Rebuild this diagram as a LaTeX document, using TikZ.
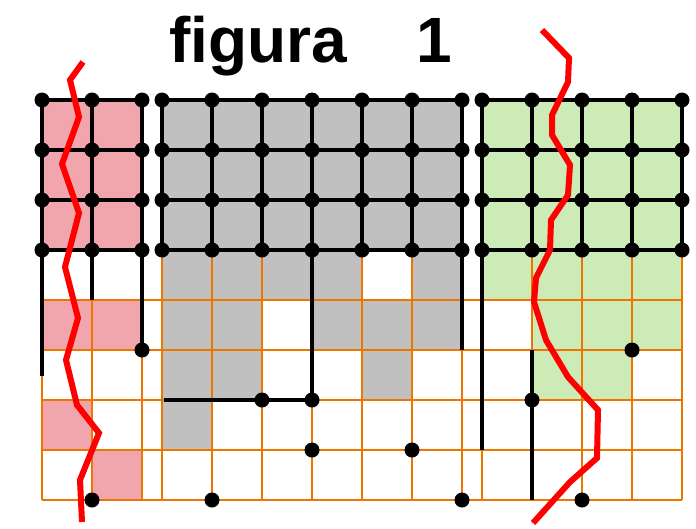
\documentclass[tikz,border=0pt]{standalone}
\usepackage{fontspec}
\setmainfont{Liberation Sans}
\definecolor{pinkc}{RGB}{240,166,172}
\definecolor{grayc}{RGB}{192,192,192}
\definecolor{greenc}{RGB}{205,235,182}
\definecolor{orangeg}{RGB}{238,118,0}
\begin{document}
\begin{tikzpicture}[x=1pt,y=-1pt,
  blk/.style={line width=3.8pt,black},
  og/.style={line width=1.1pt,orangeg},
  dot/.style={circle,fill=black,inner sep=0pt,minimum size=15pt},
  redz/.style={line width=6pt,red,line join=miter},
  titlefont/.style={anchor=base west,inner sep=0pt,font=\fontsize{64}{64}\selectfont\bfseries}]
\useasboundingbox[fill=white] (0,0) rectangle (696,528);

% fills
\fill[pinkc] (42,100) rectangle (142,250);
\foreach \x/\y in {42/300,92/300,42/400,92/450} \fill[pinkc] (\x,\y) rectangle ++(50,50);
\fill[grayc] (162,100) rectangle (462,250);
\foreach \x/\y in {162/250,212/250,262/250,312/250,412/250,
                   162/300,212/300,312/300,362/300,412/300,
                   162/350,212/350,362/350,162/400}
  \fill[grayc] (\x,\y) rectangle ++(50,50);
\fill[greenc] (482,100) rectangle (682,300);
\foreach \x/\y in {532/300,582/300,632/300,532/350,582/350} \fill[greenc] (\x,\y) rectangle ++(50,50);

% orange grid
\foreach \y in {300,350,400,450,500} \draw[og] (42,\y) -- (682,\y);
\foreach \x in {42,92,142} \draw[og] (\x,300) -- (\x,500);
\foreach \x in {162,212,262,312,362,412,462,482,532,582,632,682} \draw[og] (\x,250) -- (\x,500);

% grid coordinates
\foreach \x [count=\i] in {42,92,142}
  \foreach \y [count=\j] in {100,150,200,250} \coordinate (L\i-\j) at (\x,\y);
\foreach \x [count=\i] in {162,212,262,312,362,412,462}
  \foreach \y [count=\j] in {100,150,200,250} \coordinate (M\i-\j) at (\x,\y);
\foreach \x [count=\i] in {482,532,582,632,682}
  \foreach \y [count=\j] in {100,150,200,250} \coordinate (R\i-\j) at (\x,\y);

% black grid lines
\foreach \j in {1,...,4} {
  \draw[blk] (L1-\j) -- (L3-\j);
  \draw[blk] (M1-\j) -- (M7-\j);
  \draw[blk] (R1-\j) -- (R5-\j);
}
\foreach \i in {1,...,3} \draw[blk] (L\i-1) -- (L\i-4);
\foreach \i in {1,...,7} \draw[blk] (M\i-1) -- (M\i-4);
\foreach \i in {1,...,5} \draw[blk] (R\i-1) -- (R\i-4);

% lower points
\coordinate (e1) at (42,376);
\coordinate (e2) at (92,300);
\coordinate (p1) at (142,350);
\coordinate (p2) at (312,400);
\coordinate (p3) at (262,400);
\coordinate (e3) at (164,400);
\coordinate (e4) at (462,350);
\coordinate (e5) at (482,450);
\coordinate (e6) at (532,350);
\coordinate (p4) at (532,400);
\coordinate (e7) at (532,500);
\coordinate (p5) at (92,500);
\coordinate (p6) at (212,500);
\coordinate (p7) at (312,450);
\coordinate (p8) at (412,450);
\coordinate (p9) at (462,500);
\coordinate (p10) at (582,500);
\coordinate (p11) at (632,350);

% black extensions
\draw[blk] (L1-4) -- (e1);
\draw[blk] (L2-4) -- (e2);
\draw[blk] (L3-4) -- (p1);
\draw[blk] (M4-4) -- (p2);
\draw[blk] (e3) -- (p3) -- (p2);
\draw[blk] (M7-4) -- (e4);
\draw[blk] (R1-4) -- (e5);
\draw[blk] (e6) -- (p4) -- (e7);

% dots
\foreach \i in {1,...,3} \foreach \j in {1,...,4} \node[dot] (dL\i-\j) at (L\i-\j) {};
\foreach \i in {1,...,7} \foreach \j in {1,...,4} \node[dot] (dM\i-\j) at (M\i-\j) {};
\foreach \i in {1,...,5} \foreach \j in {1,...,4} \node[dot] (dR\i-\j) at (R\i-\j) {};
\foreach \k in {1,...,11} \node[dot] (dp\k) at (p\k) {};

% red zigzags
\draw[redz] (83,62) -- (70,80) -- (79,117) -- (62,164) -- (79,213) -- (65,267)
  -- (78,318) -- (66,360) -- (77,405) -- (99,433) -- (80,480) -- (82,522);
\draw[redz] (542,30) -- (569,58) -- (568,82) -- (552,115) -- (552,135) -- (570,165)
  -- (568,195) -- (551,220) -- (550,250) -- (536,278) -- (534,302) -- (546,340)
  -- (568,377) -- (598,410) -- (597,458) -- (570,482) -- (533,523);

% title
\node[titlefont] (title) at (169,62) {figura};
\node[titlefont] (num) at (416,62) {1};
\end{tikzpicture}
\end{document}
